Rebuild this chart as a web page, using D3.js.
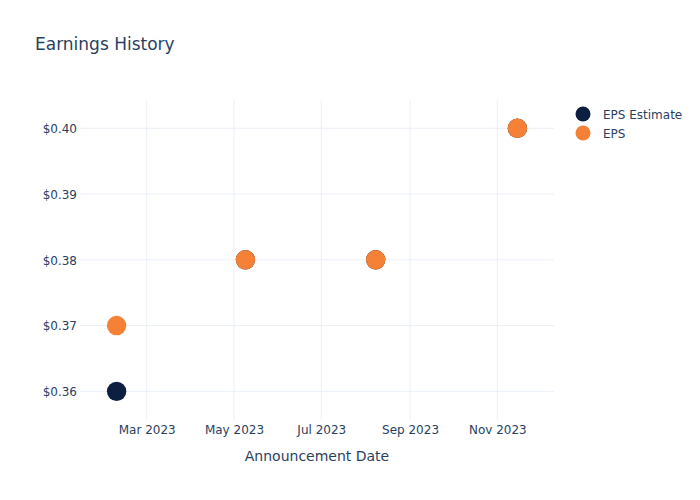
<!DOCTYPE html>
<html>
<head>
<meta charset="utf-8">
<script src="https://cdn.jsdelivr.net/npm/d3@7"></script>
<style>
  body { margin: 0; background: #fff; }
  svg { display: block; font-family: "DejaVu Sans", Verdana, sans-serif; }
</style>
</head>
<body>
<svg id="chart" width="700" height="500"></svg>
<script>
const dates = ["2023-02-08", "2023-05-09", "2023-08-08", "2023-11-15"];
const epsEstimate = [0.36, 0.38, 0.38, 0.40];
const eps = [0.37, 0.38, 0.38, 0.40];
const yTicks = [0.36, 0.37, 0.38, 0.39, 0.40];
const xTickDates = ["2023-03-01", "2023-05-01", "2023-07-01", "2023-09-01", "2023-11-01"];
const seriesNames = ["EPS Estimate", "EPS"];
const seriesColors = ["#0c1f41", "#f58137"];

const svg = d3.select("#chart");
const W = 700, H = 500;
const m = { l: 80, r: 146, t: 100, b: 80 };
const textColor = "#2a3f5f";
const gridColor = "#ebf0f8";
const parse = d3.utcParse("%Y-%m-%d");

const x = d3.scaleUtc()
  .domain([new Date(Date.UTC(2023, 0, 13, 10)), new Date(Date.UTC(2023, 11, 10, 14))])
  .range([m.l, W - m.r]);
const y = d3.scaleLinear()
  .domain([0.35564, 0.40430])
  .range([H - m.b, m.t]);

// title
svg.append("text").attr("x", 35).attr("y", 50)
  .attr("font-size", 17).attr("fill", textColor).text("Earnings History");

// grid
const g = svg.append("g");
g.selectAll(".vg").data(xTickDates).join("line")
  .attr("x1", d => x(parse(d))).attr("x2", d => x(parse(d)))
  .attr("y1", m.t).attr("y2", H - m.b)
  .attr("stroke", gridColor).attr("stroke-width", 1);
g.selectAll(".hg").data(yTicks).join("line")
  .attr("x1", m.l).attr("x2", W - m.r)
  .attr("y1", d => y(d)).attr("y2", d => y(d))
  .attr("stroke", gridColor).attr("stroke-width", 1);

// axes
const xAxis = svg.append("g").attr("transform", `translate(0,${H - m.b})`)
  .call(d3.axisBottom(x).tickValues(xTickDates.map(parse)).tickFormat(d3.utcFormat("%b %Y")).tickSize(0).tickPadding(5));
xAxis.select(".domain").remove();
xAxis.selectAll("text").attr("font-size", 12).attr("fill", textColor).attr("font-family", "DejaVu Sans, sans-serif");

const yAxis = svg.append("g").attr("transform", `translate(${m.l},0)`)
  .call(d3.axisLeft(y).tickValues(yTicks).tickFormat(d => "$" + d.toFixed(2)).tickSize(0).tickPadding(3));
yAxis.select(".domain").remove();
yAxis.selectAll("text").attr("font-size", 12).attr("fill", textColor).attr("font-family", "DejaVu Sans, sans-serif").attr("dy", "0.36em");

// axis title
svg.append("text").attr("x", (m.l + W - m.r) / 2).attr("y", 461)
  .attr("text-anchor", "middle").attr("font-size", 14).attr("fill", textColor)
  .text("Announcement Date");

// markers
const series = [epsEstimate, eps];
series.forEach((vals, i) => {
  svg.append("g").selectAll("circle").data(dates.map((d, j) => ({ d: parse(d), v: vals[j] })))
    .join("circle")
    .attr("cx", p => x(p.d)).attr("cy", p => y(p.v)).attr("r", 9.7)
    .attr("fill", seriesColors[i]);
});

// legend
const lg = svg.append("g");
seriesNames.forEach((name, i) => {
  lg.append("circle").attr("cx", 583).attr("cy", 114 + i * 19).attr("r", 7.5).attr("fill", seriesColors[i]);
  lg.append("text").attr("x", 603).attr("y", 118.5 + i * 19)
    .attr("font-size", 12).attr("fill", textColor).text(name);
});
</script>
</body>
</html>
